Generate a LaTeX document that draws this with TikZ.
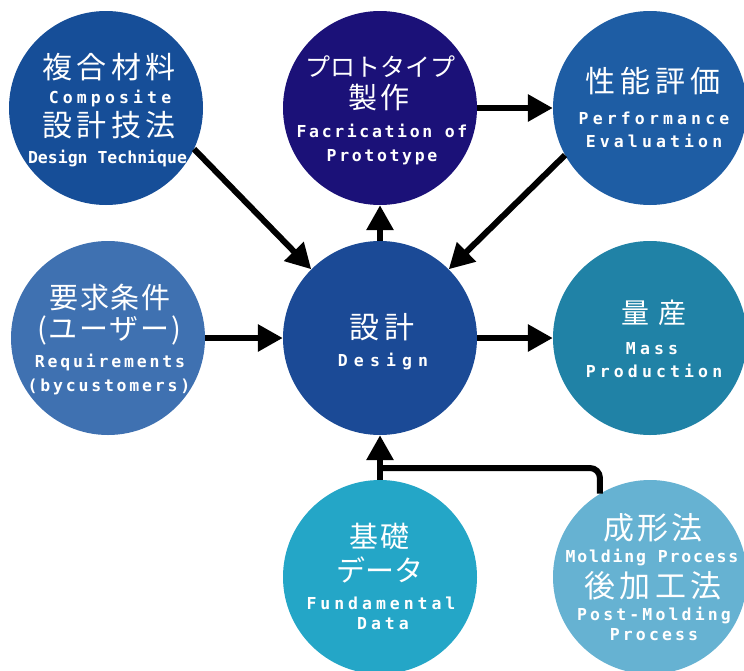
\documentclass[tikz,border=0pt]{standalone}
\usepackage{fontspec}
\usetikzlibrary{arrows.meta}
\newfontfamily\jafont{Noto Sans CJK JP}
\newfontfamily\enfont{DejaVu Sans Mono}
\definecolor{cA}{RGB}{22,78,152}
\definecolor{cB}{RGB}{27,17,120}
\definecolor{cC}{RGB}{30,93,164}
\definecolor{cD}{RGB}{63,113,177}
\definecolor{cE}{RGB}{27,74,150}
\definecolor{cF}{RGB}{32,130,166}
\definecolor{cG}{RGB}{36,166,199}
\definecolor{cH}{RGB}{102,178,210}
\begin{document}
\begin{tikzpicture}[x=1pt,y=-1pt,
  circ/.style={circle,minimum size=194pt,inner sep=0pt,draw=none},
  ja/.style n args={2}{text=white,inner sep=0pt,anchor=center,
    text height={0.8*#1pt},text depth={0.08*#1pt},
    font=\jafont\fontsize{#1}{#1}\selectfont\addfontfeatures{LetterSpace=#2}},
  en/.style={text=white,inner sep=0pt,anchor=center,
    text height=12pt,text depth=0pt,
    font=\enfont\bfseries\fontsize{16.5}{16.5}\selectfont\addfontfeatures{LetterSpace=#1}},
  arr/.style={line width=6pt,-{Triangle[length=25pt,width=26pt]}},
  link/.style={line width=6pt,rounded corners=10pt}]
\useasboundingbox (0,0) rectangle (744,670);
\clip (0,0) rectangle (744,670);
\fill[white] (0,0) rectangle (744,670);

% circles
\node[circ,fill=cA] (c1) at (106,108) {};
\node[circ,fill=cB] (c2) at (380,108) {};
\node[circ,fill=cC] (c3) at (650,108) {};
\node[circ,fill=cD] (c4) at (108,338) {};
\node[circ,fill=cE] (c5) at (380,338) {};
\node[circ,fill=cF] (c6) at (650,338) {};
\node[circ,fill=cG] (c7) at (380,577) {};
\node[circ,fill=cH] (c8) at (650,577) {};

% texts
\node[ja={30}{15}] (t1a) at (109,68) {複合材料};
\node[en=25] (t1b) at (110,97) {Composite};
\node[ja={30}{15}] (t1c) at (109,126) {設計技法};
\node[en=0] (t1d) at (107.5,157) {Design Technique};

\node[ja={25}{0}] (t2a) at (380,67) {プロトタイプ};
\node[ja={29}{12}] (t2b) at (379,98) {製作};
\node[en=16] (t2c) at (382,131) {Facrication of};
\node[en=16] (t2d) at (382,155) {Prototype};

\node[ja={30}{17}] (t3a) at (653,82) {性能評価};
\node[en=25] (t3b) at (654,118) {Performance};
\node[en=25] (t3c) at (654,141) {Evaluation};

\node[ja={29}{6}] (t4a) at (110,298) {要求条件};
\node[ja={29}{6}] (t4b) at (109,329) {(ユーザー)};
\node[en=17] (t4c) at (110,361) {Requirements};
\node[en=17] (t4d) at (109,385) {(bycustomers)};

\node[ja={30}{17}] (t5a) at (382,328) {設計};
\node[en=37] (t5b) at (383,360) {Design};

\node[ja={28}{35}] (t6a) at (654,313) {量産};
\node[en=25] (t6b) at (652,348) {Mass};
\node[en=25] (t6c) at (654,371) {Production};

\node[ja={29}{7}] (t7a) at (380,537) {基礎};
\node[ja={29}{0}] (t7b) at (380,571) {データ};
\node[en=24] (t7c) at (381,603) {Fundamental};
\node[en=24] (t7d) at (383,623) {Data};

\node[ja={31}{11}] (t8a) at (653,528) {成形法};
\node[en=11] (t8b) at (652,556) {Molding Process};
\node[ja={31}{13}] (t8c) at (653,586) {後加工法};
\node[en=19] (t8d) at (654,614) {Post-Molding};
\node[en=19] (t8e) at (654,634) {Process};

% connectors
\coordinate (j) at (380,468);
\draw[arr] (c1.-25) -- (c5.135);
\draw[arr] (c3.-151) -- (c5.45);
\draw[arr] (c5.north) -- (c2.south);
\draw[arr] (c2.east) -- (c3.west);
\draw[arr] (c4.east) -- (c5.west);
\draw[arr] (c5.east) -- (c6.west);
\draw[arr] (c7.north) -- (c5.south);
\draw[link] (c8.121) |- (j);
\end{tikzpicture}
\end{document}
